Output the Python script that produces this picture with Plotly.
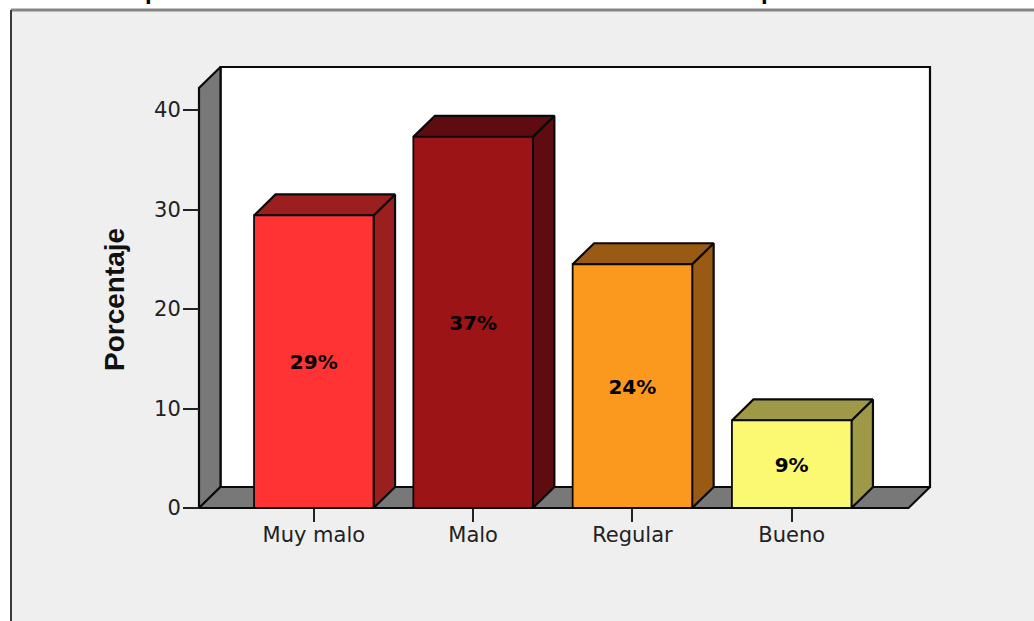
import plotly.graph_objects as go

# Data
categories = ["Muy malo", "Malo", "Regular", "Bueno"]
values = [29.4, 37.3, 24.5, 8.8]
labels = ["29%", "37%", "24%", "9%"]
y_ticks = [0, 10, 20, 30, 40]

# Styles
front_colors = ["#ff3333", "#9c1416", "#fb991f", "#fbf871"]
shade_colors = ["#9c1f20", "#5f0c10", "#995a13", "#9e9947"]
wall_color = "#787878"
panel_color = "#efefef"
ink = "#222222"

W, H = 1034, 621
# pixel calibration of the chart frame
PX_X0, PX_PER_CAT = 313.8, 159.3
PX_Y0, PX_PER_UNIT = 508.0, 9.95
L, R, T, B = 190, 940, 60, 520
to_x = lambda px: (px - PX_X0) / PX_PER_CAT
to_y = lambda py: (PX_Y0 - py) / PX_PER_UNIT

bar_w = 119.5 / PX_PER_CAT
dx = 21.5 / PX_PER_CAT
dy = 21 / PX_PER_UNIT
fx0, fx1 = to_x(199), to_x(908.5)
ftop = to_y(88)
label_drop = 2.5 / PX_PER_UNIT

fig = go.Figure()


def poly(xs, ys, fill, width=2.2):
    fig.add_trace(go.Scatter(
        x=xs + xs[:1], y=ys + ys[:1], mode="lines", fill="toself", fillcolor=fill,
        line=dict(color="#0a0a0a", width=width), hoverinfo="skip", showlegend=False))


# back wall, left wall, floor
poly([fx0 + dx, fx1 + dx, fx1 + dx, fx0 + dx], [dy, dy, ftop + dy, ftop + dy], "#ffffff")
poly([fx0, fx0 + dx, fx0 + dx, fx0], [0, dy, ftop + dy, ftop], wall_color)
poly([fx0, fx1, fx1 + dx, fx0 + dx], [0, 0, dy, dy], wall_color)

# bars
for i, v in enumerate(values):
    a, b = i - bar_w / 2, i + bar_w / 2
    poly([b, b + dx, b + dx, b], [0, dy, v + dy, v], shade_colors[i])
    poly([a, a + dx, b + dx, b], [v, v + dy, v + dy, v], shade_colors[i])
    poly([a, b, b, a], [0, 0, v, v], front_colors[i], width=1.8)

# value labels
fig.add_trace(go.Scatter(
    x=list(range(len(values))), y=[v / 2 - label_drop for v in values], mode="text", text=labels,
    textposition="middle center", hoverinfo="skip", showlegend=False,
    textfont=dict(family="DejaVu Sans", size=20, color="#000000", weight="bold")))

fig.update_layout(
    width=W, height=H, autosize=False,
    margin=dict(l=0, r=0, t=0, b=0, pad=0),
    paper_bgcolor="#ffffff", plot_bgcolor="rgba(0,0,0,0)",
    showlegend=False, hovermode=False,
    xaxis=dict(
        domain=[L / W, R / W], range=[to_x(L), to_x(R)],
        anchor="free", position=(H - PX_Y0) / H,
        tickmode="array", tickvals=list(range(len(categories))), ticktext=categories,
        ticks="outside", ticklen=13, tickwidth=2, tickcolor=ink, ticklabelstandoff=-5,
        showgrid=False, zeroline=False, showline=False,
        tickfont=dict(family="DejaVu Sans", size=21, color=ink)),
    yaxis=dict(
        domain=[(H - B) / H, (H - T) / H], range=[to_y(B), to_y(T)],
        anchor="free", position=199 / W,
        tickmode="array", tickvals=y_ticks,
        ticks="outside", ticklen=16, tickwidth=2, tickcolor=ink, ticklabelstandoff=-2,
        showgrid=False, zeroline=False, showline=False,
        tickfont=dict(family="DejaVu Sans", size=21, color=ink)),
    shapes=[
        dict(type="rect", xref="paper", yref="paper", x0=11 / W, x1=1, y0=0, y1=1 - 10 / H,
             fillcolor=panel_color, line=dict(width=0), layer="below"),
        dict(type="line", xref="paper", yref="paper", x0=11 / W, x1=1, y0=1 - 10 / H, y1=1 - 10 / H,
             line=dict(color="#858585", width=3), layer="below"),
        dict(type="line", xref="paper", yref="paper", x0=11 / W, x1=11 / W, y0=0, y1=1 - 10 / H,
             line=dict(color="#3a3a3a", width=2), layer="below"),
    ],
    annotations=[
        dict(text="<b>Porcentaje</b>", xref="paper", yref="paper", x=115 / W, y=1 - 300 / H,
             textangle=-90, showarrow=False, xanchor="center", yanchor="middle",
             font=dict(family="Liberation Sans", size=28, color="#111111")),
    ] + [
        # the title is cut off by the top edge: only descenders remain visible
        dict(text="<b>p</b>", xref="paper", yref="paper", x=px / W, y=1 - 6 / H,
             showarrow=False, xanchor="center", yanchor="bottom",
             font=dict(family="Liberation Sans", size=24, color="#000000"))
        for px in (152, 768)
    ],
)

fig.write_html("out.html", config={"displayModeBar": False},
               post_script="document.body.style.margin='0';document.documentElement.style.overflow='hidden';")
